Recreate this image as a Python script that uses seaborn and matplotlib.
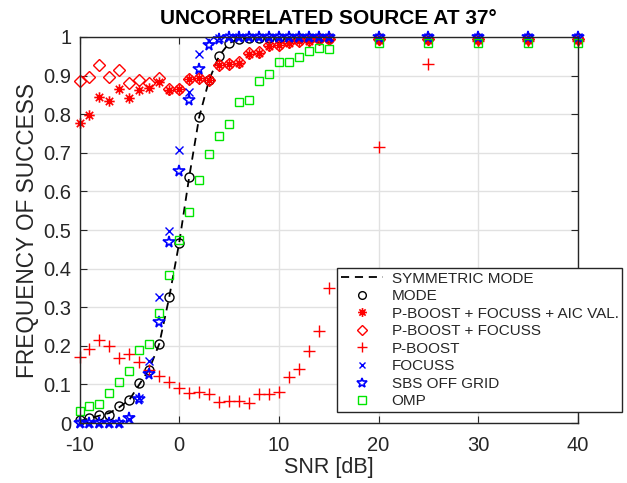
import numpy as np
import pandas as pd
import matplotlib
matplotlib.use("Agg")
import matplotlib.pyplot as plt
from matplotlib.path import Path
import seaborn as sns

# SNR grid [dB]
snr = [-10, -9, -8, -7, -6, -5, -4, -3, -2, -1, 0, 1, 2, 3, 4, 5, 6, 7, 8, 9,
       10, 11, 12, 13, 14, 15, 20, 25, 30, 35, 40]

symmetric_mode = [0.005, 0.012, 0.019, 0.026, 0.041, 0.060, 0.100, 0.140, 0.205,
                  0.326, 0.467, 0.637, 0.792, 0.889, 0.951, 0.984, 0.995, 0.999,
                  1.0, 1.0, 1.0, 1.0, 1.0, 1.0, 1.0, 1.0, 1.0, 1.0, 1.0, 1.0, 1.0]
mode = [0.008, 0.013, 0.021, 0.022, 0.043, 0.060, 0.103, 0.138, 0.205, 0.326,
        0.467, 0.637, 0.792, 0.889, 0.951, 0.984, 0.995, 0.998, 0.998, 0.998,
        0.998, 0.998, 0.998, 0.998, 0.998, 0.998, 0.998, 0.998, 0.998, 0.998, 0.998]
pboost_focuss_aic = [0.776, 0.799, 0.845, 0.834, 0.866, 0.843, 0.862, 0.868, 0.884,
                     0.862, 0.865, 0.890, 0.893, 0.889, 0.927, 0.929, 0.933, 0.956,
                     0.958, 0.977, 0.979, 0.985, 0.990, 0.990, 0.995, 0.995,
                     0.993, 0.993, 0.993, 0.993, 0.993]
pboost_focuss = [0.887, 0.897, 0.927, 0.897, 0.915, 0.880, 0.889, 0.880, 0.893,
                 0.864, 0.866, 0.892, 0.894, 0.889, 0.928, 0.930, 0.935, 0.958,
                 0.960, 0.978, 0.980, 0.986, 0.990, 0.992, 0.995, 0.996,
                 0.995, 0.995, 0.995, 0.995, 0.995]
pboost = [0.172, 0.193, 0.215, 0.200, 0.168, 0.179, 0.159, 0.137, 0.121, 0.107,
          0.091, 0.079, 0.081, 0.075, 0.054, 0.058, 0.057, 0.052, 0.074, 0.076,
          0.081, 0.120, 0.140, 0.187, 0.239, 0.349, 0.714, 0.929, 0.990, 0.990, 0.990]
focuss = [0.0, 0.0, 0.0, 0.0, 0.0, 0.010, 0.065, 0.160, 0.327, 0.497, 0.706,
          0.857, 0.956, 0.990, 0.998, 1.0, 1.0, 1.0, 1.0, 1.0, 1.0, 1.0, 1.0,
          1.0, 1.0, 1.0, 1.0, 1.0, 1.0, 1.0, 1.0]
sbs_off_grid = [0.0, 0.0, 0.0, 0.0, 0.0, 0.012, 0.062, 0.126, 0.262, 0.469, 0.652,
                0.837, 0.916, 0.979, 0.995, 1.0, 1.0, 1.0, 1.0, 1.0, 1.0, 1.0, 1.0,
                1.0, 1.0, 1.0, 1.0, 1.0, 1.0, 1.0, 1.0]
omp = [0.032, 0.044, 0.049, 0.079, 0.105, 0.136, 0.189, 0.205, 0.284, 0.383,
       0.475, 0.547, 0.630, 0.697, 0.743, 0.774, 0.832, 0.837, 0.887, 0.903,
       0.936, 0.936, 0.947, 0.964, 0.971, 0.968, 0.985, 0.985, 0.985, 0.985, 0.985]

labels = ["SYMMETRIC MODE", "MODE", "P-BOOST + FOCUSS + AIC VAL.",
          "P-BOOST + FOCUSS", "P-BOOST", "FOCUSS", "SBS OFF GRID", "OMP"]
x_ticks = [-10, 0, 10, 20, 30, 40]
y_ticks = [0, 0.1, 0.2, 0.3, 0.4, 0.5, 0.6, 0.7, 0.8, 0.9, 1]
y_tick_labels = ["0", "0.1", "0.2", "0.3", "0.4", "0.5", "0.6", "0.7", "0.8", "0.9", "1"]

df = pd.DataFrame({"snr": snr})
for name, vals in zip(labels, [symmetric_mode, mode, pboost_focuss_aic, pboost_focuss,
                               pboost, focuss, sbs_off_grid, omp]):
    df[name] = vals

sns.set_style("ticks")
plt.rcParams["font.family"] = ["Liberation Sans", "DejaVu Sans"]

ink = "#262626"
fig = plt.figure(figsize=(6.27, 4.83), dpi=100)
ax = fig.add_axes([0.1268, 0.1242, 0.7951, 0.7992])

# eight-armed asterisk marker (plus and cross overlaid)
c = np.sqrt(0.5)
ast_path = Path(
    [(-1, 0), (1, 0), (0, -1), (0, 1), (-c, -c), (c, c), (-c, c), (c, -c)],
    [Path.MOVETO, Path.LINETO] * 4,
)

common = dict(ax=ax, x="snr", data=df, linestyle="none", estimator=None,
              errorbar=None, sort=False, clip_on=False)

sns.lineplot(y="SYMMETRIC MODE", ax=ax, x="snr", data=df, estimator=None,
             errorbar=None, color="black", linewidth=1.3, dashes=False,
             linestyle=(0, (4.5, 3.2)), label=labels[0])
sns.lineplot(y="MODE", marker="o", ms=6.5, mfc="none", mec="black", mew=1.0,
             color="black", label=labels[1], **common)
sns.lineplot(y="P-BOOST + FOCUSS + AIC VAL.", marker=ast_path, ms=7.5, mfc="none",
             mec="red", mew=1.2, color="red", label=labels[2], **common)
sns.lineplot(y="P-BOOST + FOCUSS", marker="D", ms=6.5, mfc="none", mec="red",
             mew=1.0, color="red", label=labels[3], **common)
sns.lineplot(y="P-BOOST", marker="+", ms=8, mfc="none", mec="red", mew=1.0,
             color="red", label=labels[4], **common)
sns.lineplot(y="FOCUSS", marker="x", ms=5.5, mfc="none", mec="blue", mew=1.0,
             color="blue", label=labels[5], **common)
sns.lineplot(y="SBS OFF GRID", marker="*", ms=8.5, mfc="none", mec="blue", mew=1.2,
             color="blue", label=labels[6], **common)
sns.lineplot(y="OMP", marker="s", ms=6, mfc="none", mec="#00e600", mew=1.0,
             color="#00e600", label=labels[7], **common)

ax.set_xlim(-10, 40)
ax.set_ylim(0, 1)
ax.set_xticks(x_ticks)
ax.set_xticklabels([str(t) for t in x_ticks])
ax.set_yticks(y_ticks)
ax.set_yticklabels(y_tick_labels)
ax.grid(True, color="#e1e1e1", linewidth=1.0)
ax.set_axisbelow(True)

for side in ["left", "right", "top", "bottom"]:
    ax.spines[side].set_visible(True)
    ax.spines[side].set_color(ink)
    ax.spines[side].set_linewidth(1.0)
ax.tick_params(axis="both", which="both", direction="in", length=5, width=0.8,
               colors=ink, labelsize=14.5, top=True, right=True)
ax.tick_params(axis="x", pad=9)
ax.tick_params(axis="y", pad=6)

ax.set_xlabel("SNR [dB]", fontsize=15.5, color=ink, labelpad=2)
ax.set_ylabel("FREQUENCY OF SUCCESS", fontsize=16.3, color=ink, labelpad=3)
ax.set_title("UNCORRELATED SOURCE AT 37°", fontsize=15, fontweight="bold",
             color="black", pad=9)

handles, lbls = ax.get_legend_handles_labels()
leg = ax.legend(handles, lbls, loc="lower left", bbox_to_anchor=(0.516, 0.028),
                borderaxespad=0, fontsize=11, frameon=True, fancybox=False,
                edgecolor=ink, framealpha=1, borderpad=0.25, labelspacing=0.23,
                handlelength=2.8, handletextpad=0.55, markerscale=0.85)
leg.get_frame().set_linewidth(1.0)
for t in leg.get_texts():
    t.set_color(ink)

fig.savefig("out.png", dpi=100)
